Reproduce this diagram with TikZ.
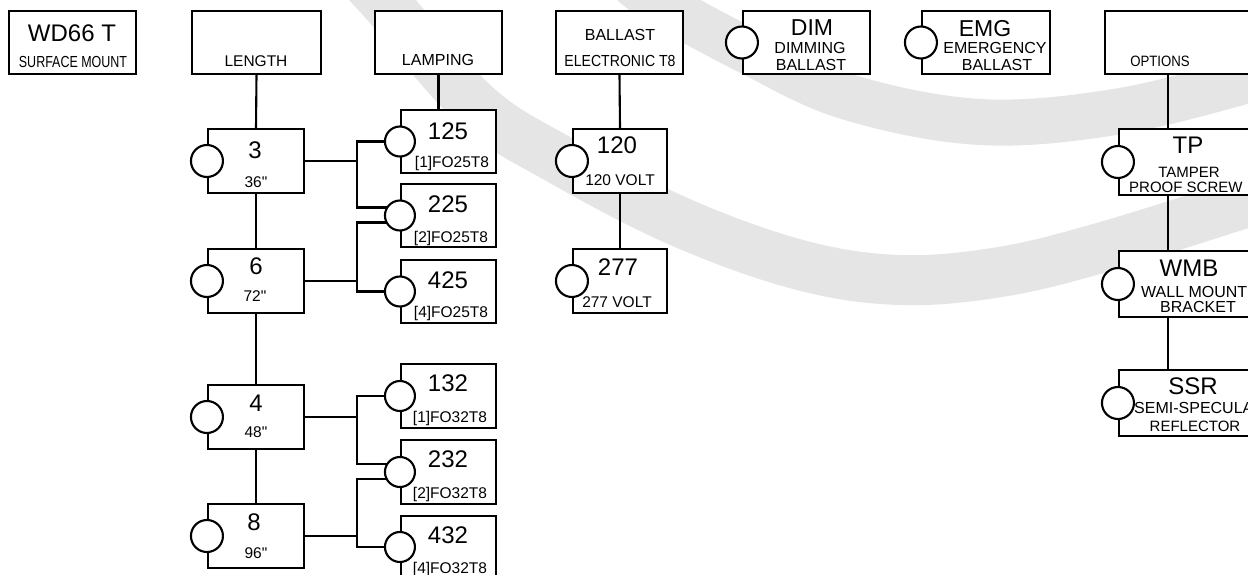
\documentclass[tikz,border=0pt]{standalone}
\usepackage{fontspec}
\usepackage{graphicx}
\setmainfont{Liberation Sans}
\usetikzlibrary{calc}
\newcommand{\fsz}[1]{\fontsize{#1}{#1}\selectfont}
\newcommand{\sq}[2]{\scalebox{#1}[1]{#2}}
\newcommand{\mkbox}[5]{\node[box, minimum width={(#4-#2)*1pt}, minimum height={(#5-#3)*1pt}] (#1) at ({(#2+#4)/2},{(#3+#5)/2}) {};}
\tikzset{
  box/.style={draw=black, line width=2.1pt, fill=white, rectangle, inner sep=0pt},
  ring/.style={draw=black, line width=2.1pt, fill=white, circle, inner sep=0pt, minimum size=32pt},
  sring/.style={ring, minimum size=30pt},
  wire/.style={draw=black, line width=2.1pt},
  band/.style={draw=black!10, line width=#1},
  txt/.style={inner sep=0pt, text depth=0pt, text=black},
  big/.style={txt, font=\fsz{24}},
  lab/.style={txt, font=\fsz{15.5}},
  hd/.style={txt, font=\fsz{16}},
}
\begin{document}
\begin{tikzpicture}[x=1pt,y=-1pt]
\useasboundingbox (0,0) rectangle (1248,575);
\clip (0,0) rectangle (1248,575);
\fill[white] (0,0) rectangle (1248,575);
% watermark bands
\draw[band=50pt] plot[smooth, tension=0.6] coordinates {(340,-45) (383,0) (475,105) (560,160) (680,222) (800,265) (900,280) (1000,272) (1100,248) (1248,202) (1300,185)};
\draw[band=46pt] plot[smooth, tension=0.6] coordinates {(620,-30) (655,0) (750,52) (848,97) (980,122) (1115,112) (1248,80) (1300,62)};
% header boxes
\mkbox{wd}{9}{11}{136}{74}
\mkbox{len}{192}{11}{321}{74}
\mkbox{lamp}{375}{11}{502}{74}
\mkbox{ball}{556}{11}{683}{74}
\mkbox{dim}{743}{11}{870}{74}
\mkbox{emg}{922}{11}{1050}{74}
\mkbox{opt}{1105}{11}{1270}{74}
% length boxes
\mkbox{b3}{208}{129}{304}{193}
\mkbox{b6}{208}{249}{304}{313}
\mkbox{b4}{208}{385}{304}{449}
\mkbox{b8}{208}{504}{304}{568}
% lamping boxes
\mkbox{l125}{401}{110}{496}{173}
\mkbox{l225}{401}{184}{496}{247}
\mkbox{l425}{401}{260}{496}{323}
\mkbox{l132}{401}{364}{496}{428}
\mkbox{l232}{401}{440}{496}{504}
\mkbox{l432}{401}{516}{496}{578}
% ballast boxes
\mkbox{v120}{573}{129}{667}{193}
\mkbox{v277}{573}{249}{667}{313}
% option boxes
\mkbox{tp}{1119}{129}{1270}{195}
\mkbox{wmb}{1119}{251}{1270}{317}
\mkbox{ssr}{1119}{370}{1270}{436}
% circle positions
\coordinate (p125) at (l125.west);
\coordinate (p225) at (l225.west);
\coordinate (p425) at (l425.west);
\coordinate (p132) at (l132.west);
\coordinate (p232) at (l232.west);
\coordinate (p432) at (l432.west);
\coordinate (bus) at (357,0);
\coordinate (optx) at (1168,0);
\coordinate (a1) at ($(p225)+(0,-8)$);
\coordinate (a2) at ($(p225)+(0,7)$);
\coordinate (a3) at ($(p232)+(0,-8)$);
\coordinate (a4) at ($(p232)+(0,7)$);
% connectors
\draw[wire] (len.south) -- (b3.north);
\draw[wire] (b3.south) -- (b6.north);
\draw[wire] (b6.south) -- (b4.north);
\draw[wire] (b4.south) -- (b8.north);
\draw[wire] (lamp.south) -- (lamp.south |- l125.north);
\draw[wire] (ball.south) -- (v120.north);
\draw[wire] (v120.south) -- (v277.north);
\draw[wire] (opt.south -| optx) -- (tp.north -| optx);
\draw[wire] (tp.south -| optx) -- (wmb.north -| optx);
\draw[wire] (wmb.south -| optx) -- (ssr.north -| optx);
\draw[wire] (p125) -| (bus |- a1) -- (a1);
\draw[wire] (b3.east) -- (b3.east -| bus);
\draw[wire] (a2) -| (bus |- p425) -- (p425);
\draw[wire] (b6.east) -- (b6.east -| bus);
\draw[wire] (p132) -| (bus |- a3) -- (a3);
\draw[wire] (b4.east) -- (b4.east -| bus);
\draw[wire] (a4) -| (bus |- p432) -- (p432);
\draw[wire] (b8.east) -- (b8.east -| bus);
% circles
\node[ring] (c3) at (b3.west) {};
\node[ring] (c6) at (b6.west) {};
\node[ring] (c4) at (b4.west) {};
\node[ring] (c8) at (b8.west) {};
\node[sring] (c125) at (p125) {};
\node[sring] (c225) at (p225) {};
\node[sring] (c425) at (p425) {};
\node[sring] (c132) at (p132) {};
\node[sring] (c232) at (p232) {};
\node[sring] (c432) at (p432) {};
\node[ring] (c120) at (v120.west) {};
\node[ring] (c277) at (v277.west) {};
\node[ring] (cdim) at (dim.west) {};
\node[ring] (cemg) at (emg.west) {};
\node[ring] (ctp) at (tp.west) {};
\node[ring] (cwmb) at (wmb.west) {};
\node[ring] (cssr) at (ssr.west) {};
% texts
\node[big] (twd) at (72,33) {WD66 T};
\node[hd] (twd2) at (73,62) {\sq{0.78}{SURFACE MOUNT}};
\node[lab] (tlen) at (256,61) {LENGTH};
\node[hd] (tlamp) at (438,60) {LAMPING};
\node[hd] (tball) at (620,35) {BALLAST};
\node[hd] (tball2) at (620,61) {\sq{0.88}{ELECTRONIC T8}};
\node[txt, font=\fsz{23}] (tdim) at (812,28) {DIM};
\node[hd] (tdim2) at (810,48) {DIMMING};
\node[hd] (tdim3) at (811,65) {BALLAST};
\node[txt, font=\fsz{23}] (temg) at (985,28) {EMG};
\node[hd] (temg2) at (995,48) {EMERGENCY};
\node[hd] (temg3) at (997,65) {BALLAST};
\node[txt, font=\fsz{15}] (topt) at (1160,61) {\sq{0.88}{OPTIONS}};
% length texts
\node[big] (t3) at (255,150) {3};
\node[lab] (t3b) at (256,182) {36\textquotedbl};
\node[big] (t6) at (256,266) {6};
\node[lab] (t6b) at (255,296) {72\textquotedbl};
\node[big] (t4) at (256,403) {4};
\node[lab] (t4b) at (256,432) {48\textquotedbl};
\node[big] (t8) at (254,522) {8};
\node[lab] (t8b) at (256,553) {96\textquotedbl};
% lamping texts
\node[big] (t125) at (448,131) {125};
\node[lab] (t125b) at (452,162) {[1]FO25T8};
\node[big] (t225) at (448,204) {225};
\node[lab] (t225b) at (451,237) {[2]FO25T8};
\node[big] (t425) at (448,280) {425};
\node[lab] (t425b) at (451,312) {[4]FO25T8};
\node[big] (t132) at (448,383) {132};
\node[lab] (t132b) at (450,417) {[1]FO32T8};
\node[big] (t232) at (448,459) {232};
\node[lab] (t232b) at (450,493) {[2]FO32T8};
\node[big] (t432) at (448,535) {432};
\node[lab] (t432b) at (450,568) {[4]FO32T8};
% ballast texts
\node[big] (t120) at (617,145) {120};
\node[lab] (t120b) at (620,180) {120 VOLT};
\node[big] (t277) at (618,267) {277};
\node[lab] (t277b) at (617,302) {277 VOLT};
% option texts
\node[big] (ttp) at (1188,145) {TP};
\node[txt, font=\fsz{15}] (ttp2) at (1189,172) {TAMPER};
\node[txt, font=\fsz{15}, anchor=west] (ttp3) at (1129,187) {PROOF SCREW};
\node[big] (twmb) at (1189,268) {WMB};
\node[hd, anchor=west] (twmb2) at (1141,292) {WALL MOUNT};
\node[hd] (twmb3) at (1198,307) {BRACKET};
\node[big] (tssr) at (1193,386) {SSR};
\node[hd, anchor=west] (tssr2) at (1134,408) {SEMI-SPECULAR};
\node[txt, font=\fsz{15}] (tssr3) at (1195,426) {REFLECTOR};
\end{tikzpicture}
\end{document}
